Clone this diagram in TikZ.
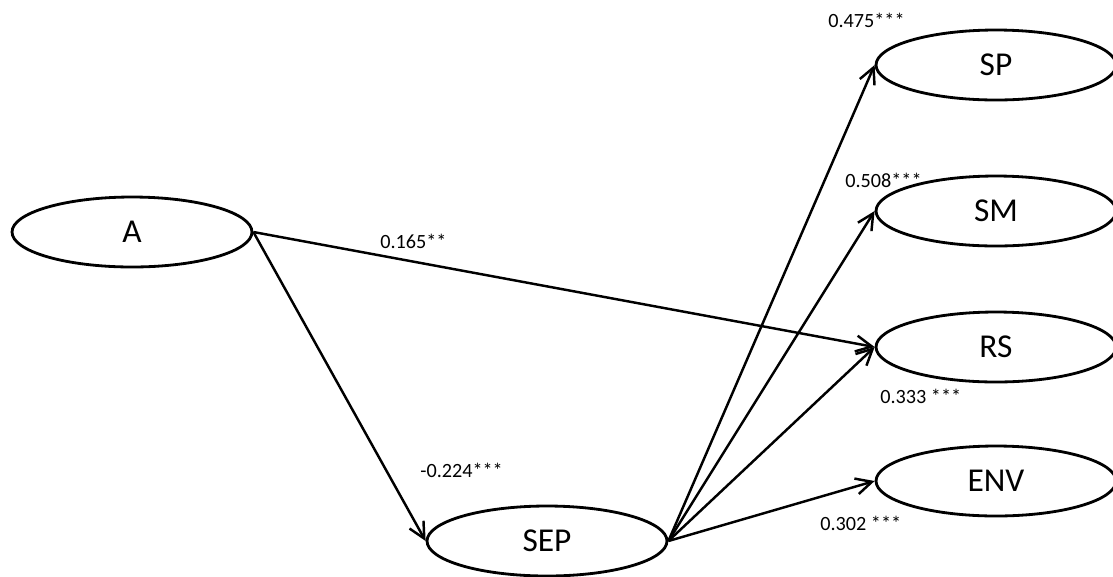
\documentclass[tikz,border=0pt]{standalone}
\usepackage{fontspec}
\setmainfont{Carlito}
\usetikzlibrary{positioning,arrows.meta,shapes.geometric}
\tikzset{
  latent/.style={draw,ellipse,line width=1.6pt,minimum width=4.8cm,minimum height=1.4cm,inner sep=0pt,font=\fontsize{19}{19}\selectfont},
  path/.style={line width=1.4pt,-{Straight Barb[length=3.2mm,width=3.2mm,line width=1.4pt]}},
  coef/.style={font=\fontsize{11.5}{11.5}\selectfont,inner sep=0pt}
}
\begin{document}
\begin{tikzpicture}[x=0.02cm,y=-0.02cm]
   \useasboundingbox (0,0) rectangle (1113,576);
   \node[latent] (a) at (132,232) {A};
   \node[latent] (sep) at (547,541) {SEP};
   \node[latent] (sp) at (996,65) {SP};
   \node[latent] (sm) at (996,211) {SM};
   \node[latent] (rs) at (996,347) {RS};
   \node[latent] (env) at (996,481) {ENV};

   \draw[path] (a.east) -- (rs.west);
   \draw[path] (a.east) -- (sep.west);
   \draw[path] (sep.east) -- (sp.west);
   \draw[path] (sep.east) -- (sm.west);
   \draw[path] (sep.east) -- (rs.west);
   \draw[path] (sep.east) -- (env.west);

   % coefficients
   \node[coef,anchor=west] (c-sp) at (828,20) {0.475***};
   \node[coef,anchor=west] (c-sm) at (845,180) {0.508***};
   \node[coef,anchor=west] (c-ars) at (380,241) {0.165**};
   \node[coef,anchor=west] (c-rs) at (880,396) {0.333 ***};
   \node[coef,anchor=west] (c-sep) at (420,470) {-0.224***};
   \node[coef,anchor=west] (c-env) at (820,523) {0.302 ***};
\end{tikzpicture}
\end{document}
